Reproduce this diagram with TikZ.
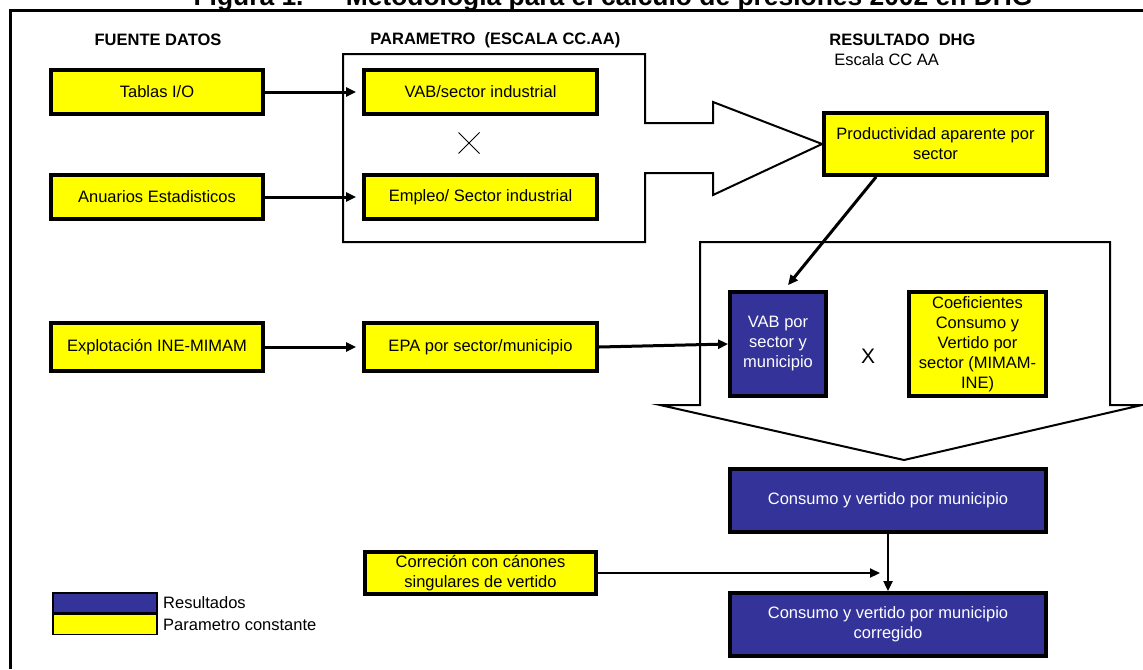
\documentclass[tikz,border=0pt]{standalone}
\usepackage{fontspec}
\setmainfont{Liberation Sans}
\usetikzlibrary{arrows.meta, positioning, calc, shapes.misc}
\definecolor{amarillo}{HTML}{FFFF00}
\definecolor{azul}{HTML}{333399}
\tikzset{
  par/.style   = {draw, line width=1.9pt, fill=amarillo, align=center, inner sep=1pt,
                  font=\fontsize{8.25}{10}\selectfont},
  res/.style   = {par, fill=azul, text=white},
  colA/.style  = {par, minimum width=106pt, minimum height=22pt},
  colB/.style  = {par, minimum width=116.5pt, minimum height=22pt},
  flow/.style  = {-{Triangle[length=5pt, width=4.5pt]}, line width=1.5pt},
  fine/.style  = {-{Triangle[length=5pt, width=4.5pt]}, line width=1pt},
  outline/.style = {line width=1pt, line join=miter},
  frame/.style = {line width=1.5pt},
  ttl/.style   = {font=\fontsize{13.2}{15}\selectfont\bfseries, inner sep=0pt},
  hdr/.style   = {font=\fontsize{8.25}{10}\selectfont\bfseries, inner sep=0pt},
  txt/.style   = {font=\fontsize{8.25}{10}\selectfont, inner sep=0pt},
  swatch/.style= {draw, line width=0.8pt, minimum width=52pt, minimum height=10pt, inner sep=0pt}
}

\begin{document}
\begin{tikzpicture}[x=0.5pt, y=-0.5pt]
\useasboundingbox (0,0) rectangle (1143,669);
%% ===== frame and headings =====
\node[ttl, anchor=base] (title) at (613,5) {Figura 1.\hspace{1.6em}Metodología para el cálculo de presiones 2002 en DHG};
\draw[frame] (10,669) -- (10,10.5) -- (1143,10.5);
\node[hdr] (hfuente) at (158,40) {FUENTE DATOS};
\node[hdr, anchor=west] (hparam) at (370,40) {PARAMETRO\ \ (ESCALA CC.AA)};
\node[hdr, anchor=west] (hres) at (829,40) {RESULTADO\ \ DHG};
\node[txt, anchor=west] (hesc) at (834,60) {Escala CC AA};
%% ===== data sources =====
\node[colA] (tablas)   at (157,92)  {Tablas I/O};
\node[colA] (anuarios) at (157,197) {Anuarios Estadisticos};
\node[colA, minimum height=24pt] (explot) at (157,347) {Explotación INE-MIMAM};
%% ===== parameters =====
\node[colB] (vabsec) at (480.5,92)  {VAB/sector industrial};
\node[colB] (empleo) at (480.5,197) {Empleo/ Sector industrial};
\node[colB, minimum height=24pt] (epa) at (480.5,347) {EPA por sector/municipio};
\node[cross out, draw, line width=0.5pt, minimum size=10pt, inner sep=0pt] (mult) at (469,143) {};
\node[colB, minimum width=115.5pt, minimum height=21pt] (correc) at (480.5,573)
  {Correción con cánones\\singulares de vertido};
%% ===== results =====
\node[par, minimum width=111.5pt, minimum height=31pt] (prod) at (935.5,144)
  {Productividad aparente por\\sector};
\node[res, minimum width=48pt, minimum height=52pt] (vabmun) at (778,344)
  {VAB por\\sector y\\municipio};
\node[par, minimum width=68.5pt, minimum height=52pt] (coef) at (977.5,344)
  {Coeficientes\\Consumo y\\Vertido por\\sector (MIMAM-\\INE)};
\node[font=\fontsize{10.5}{12}\selectfont, inner sep=0pt] (por) at (868,356) {X};
\node[res, minimum width=158pt, minimum height=31.5pt] (consumo) at (888,500.5)
  {Consumo y vertido por municipio};
\node[res, minimum width=158pt, minimum height=31.5pt] (corregido) at (888,624.5)
  {Consumo y vertido por municipio\\corregido};
%% ===== block arrows =====
\draw[outline] (645,123) -- (713,123) -- (713,102) -- (prod.west) -- (713,195) -- (713,173)
  -- (645,173) -- (645,242) -- (343,242) -- (343,54) -- (645,54) -- cycle;
\draw[outline] (700,242) -- (1110,242) -- (1110,405) -- (1142,405) -- (904,460)
  -- (660,405) -- (700,405) -- cycle;
%% ===== connectors =====
\draw[flow, shorten >=3pt] (tablas) -- (vabsec);
\draw[flow, shorten >=3pt] (anuarios) -- (empleo);
\draw[flow, shorten >=3pt] (explot) -- (epa);
\draw[flow] (epa.east) -- (vabmun.west);
\draw[flow] ([xshift=27pt]prod.south west) -- ([xshift=5pt, yshift=2.5pt]vabmun.north);
\draw[fine] (consumo) -- (corregido);
\draw[fine, shorten >=4pt] (correc.east) -- (correc.east -| consumo.south);
%% ===== legend =====
\node[swatch, fill=azul] (lres) at (105,603) {};
\node[swatch, fill=amarillo, below=0pt of lres] (lpar) {};
\node[txt, right=2.5pt of lres] (tres) {Resultados};
\node[txt, right=2.5pt of lpar] (tpar) {Parametro constante};
\end{tikzpicture}
\end{document}
